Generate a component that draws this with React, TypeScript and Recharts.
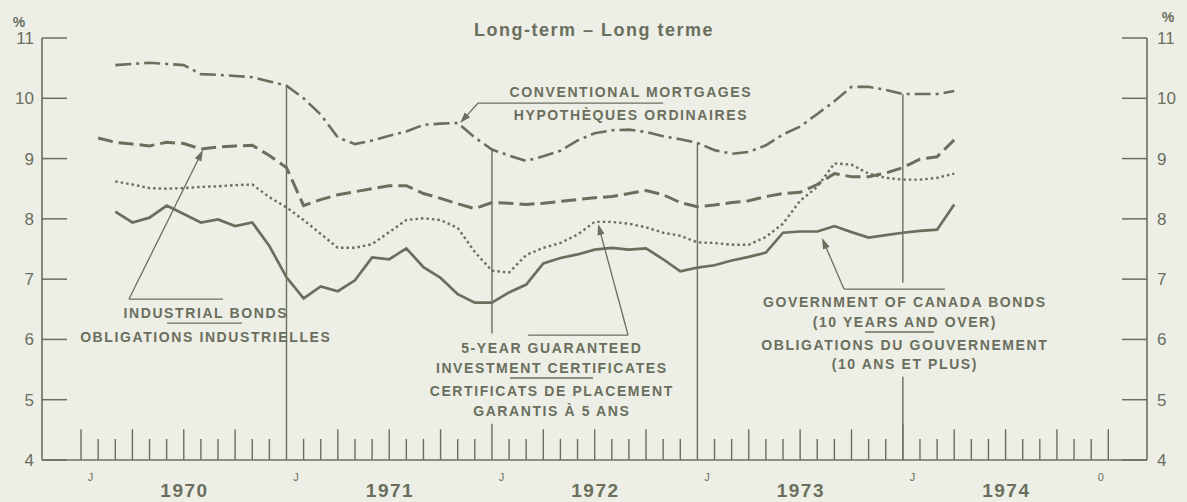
import React from 'react';
import { LineChart, Line, XAxis, YAxis, ReferenceLine, ReferenceDot } from 'recharts';

const INK = '#6a6f5d';
const BG = '#edeee6';
const FONT = '"Liberation Sans", Arial, Helvetica, sans-serif';

// month index: 0 = 1 January 1970, 12 = 1 January 1971, ...
const months = [1, 2, 3, 4, 5, 6, 7, 8, 9, 10, 11, 12, 13, 14, 15, 16, 17, 18, 19, 20, 21, 22, 23, 24, 25, 26, 27, 28, 29, 30, 31, 32, 33, 34, 35, 36, 37, 38, 39, 40, 41, 42, 43, 44, 45, 46, 47, 48, 49, 50, 51];

const conventionalMortgages = [null, 10.55, 10.57, 10.59, 10.57, 10.55, 10.40, 10.39, 10.37, 10.35, 10.28, 10.21, 10.00, 9.73, 9.35, 9.24, 9.30, 9.38, 9.45, 9.56, 9.58, 9.59, 9.35, 9.15, 9.05, 8.96, 9.04, 9.13, 9.30, 9.42, 9.47, 9.48, 9.44, 9.37, 9.32, 9.26, 9.14, 9.08, 9.11, 9.22, 9.40, 9.53, 9.74, 9.95, 10.19, 10.19, 10.14, 10.07, 10.07, 10.07, 10.12];

const industrialBonds = [9.34, 9.27, 9.24, 9.21, 9.27, 9.25, 9.16, 9.19, 9.21, 9.22, 9.05, 8.85, 8.22, 8.32, 8.40, 8.45, 8.50, 8.55, 8.55, 8.42, 8.34, 8.25, 8.17, 8.27, 8.26, 8.24, 8.26, 8.29, 8.32, 8.35, 8.37, 8.42, 8.47, 8.40, 8.27, 8.20, 8.23, 8.27, 8.30, 8.37, 8.42, 8.44, 8.57, 8.75, 8.70, 8.70, 8.76, 8.85, 8.99, 9.03, 9.31];

const guaranteedCertificates = [null, 8.62, 8.57, 8.51, 8.50, 8.51, 8.53, 8.54, 8.56, 8.57, 8.36, 8.19, 7.98, 7.75, 7.52, 7.52, 7.58, 7.78, 7.98, 8.01, 7.98, 7.85, 7.45, 7.14, 7.11, 7.40, 7.52, 7.60, 7.74, 7.95, 7.95, 7.92, 7.86, 7.77, 7.72, 7.61, 7.60, 7.57, 7.57, 7.70, 7.92, 8.30, 8.53, 8.92, 8.90, 8.75, 8.68, 8.65, 8.65, 8.68, 8.75];

const governmentBonds = [null, 8.12, 7.94, 8.02, 8.22, 8.08, 7.94, 7.99, 7.88, 7.94, 7.55, 7.03, 6.68, 6.88, 6.80, 6.98, 7.36, 7.33, 7.51, 7.20, 7.02, 6.75, 6.61, 6.61, 6.78, 6.91, 7.26, 7.35, 7.41, 7.49, 7.52, 7.49, 7.51, 7.33, 7.13, 7.19, 7.23, 7.31, 7.37, 7.44, 7.77, 7.79, 7.79, 7.88, 7.78, 7.69, 7.73, 7.77, 7.80, 7.82, 8.24];

const yTicks = [4, 5, 6, 7, 8, 9, 10, 11];
const monthLabelPos = [0.5, 12.5, 24.5, 36.5, 48.5, 59.5];
const monthLabels = ['J', 'J', 'J', 'J', 'J', '0'];
const yearPos = [6, 18, 30, 42, 54];
const yearLabels = ['1970', '1971', '1972', '1973', '1974'];
const monthTicks = [0, 1, 2, 3, 4, 5, 6, 7, 8, 9, 10, 11, 12, 13, 14, 15, 16, 17, 18, 19, 20, 21, 22, 23, 24, 25, 26, 27, 28, 29, 30, 31, 32, 33, 34, 35, 36, 37, 38, 39, 40, 41, 42, 43, 44, 45, 46, 47, 48, 49, 50, 51, 52, 53, 54, 55, 56, 57, 58, 59, 60];

const X_MIN = -2.28;
const X_MAX = 62.26;

const data = months.map((m, k) => ({
  m,
  mort: conventionalMortgages[k],
  ind: industrialBonds[k],
  gic: guaranteedCertificates[k],
  gov: governmentBonds[k],
}));

const valueAt = (m: number) => {
  const k = months.indexOf(m);
  return conventionalMortgages[k] as number;
};

// year dividers: [month, top value, bottom value]
const dividers: [number, number, number][] = [
  [12, valueAt(12), 4],
  [24, valueAt(24), 6.1],
  [36, valueAt(36), 4],
  [48, valueAt(48), 6.94],
  [48, 5.38, 4],
];

const LS = 1.6;

type Block = {
  x: number;
  y: number;
  lines: string[];
  offsets: number[];
  underline?: [number, number, number];
};

const blocks: Block[] = [
  { x: 32.07, y: 10.02, lines: ['CONVENTIONAL MORTGAGES', 'HYPOTHÈQUES ORDINAIRES'], offsets: [0, 23] },
  { x: 7.24, y: 6.355, lines: ['INDUSTRIAL BONDS', 'OBLIGATIONS INDUSTRIELLES'], offsets: [0, 24], underline: [5, -38, 37] },
  {
    x: 27.45, y: 5.775,
    lines: ['5-YEAR GUARANTEED', 'INVESTMENT CERTIFICATES', 'CERTIFICATS DE PLACEMENT', 'GARANTIS À 5 ANS'],
    offsets: [0, 20, 43, 63], underline: [25, -41, 42],
  },
  {
    x: 48.07, y: 6.538,
    lines: ['GOVERNMENT OF CANADA BONDS', '(10 YEARS AND OVER)', 'OBLIGATIONS DU GOUVERNEMENT', '(10 ANS ET PLUS)'],
    offsets: [0, 20, 43, 62], underline: [25, -39, 30],
  },
];

// leader lines: [x1, y1, x2, y2, arrow]
const leaders: [number, number, number, number, boolean][] = [
  [34.0, 9.921, 23.19, 9.921, false],
  [23.19, 9.921, 22.14, 9.59, true],
  [8.29, 6.67, 2.8, 6.67, false],
  [2.8, 6.67, 7.12, 9.142, true],
  [26.11, 6.073, 31.95, 6.073, false],
  [31.95, 6.073, 30.2, 7.914, true],
  [50.46, 6.836, 44.56, 6.836, false],
  [44.56, 6.836, 43.28, 7.682, true],
];

const makeBlockShape = (b: Block) => (props: any) => {
  const { cx, cy } = props;
  return (
    <g>
      {b.lines.map((t, k) => (
        <text
          key={k}
          x={cx}
          dx={LS / 2}
          y={cy + b.offsets[k]}
          textAnchor="middle"
          fontFamily={FONT}
          fontWeight={700}
          fontSize={14}
          letterSpacing={LS}
          fill={INK}
        >
          {t}
        </text>
      ))}
      {b.underline && (
        <line
          x1={cx + b.underline[1]}
          x2={cx + b.underline[2]}
          y1={cy + b.underline[0]}
          y2={cy + b.underline[0]}
          stroke={INK}
          strokeWidth={1.3}
        />
      )}
    </g>
  );
};

const makeLeader = (arrow: boolean) => (props: any) => {
  const { x1, y1, x2, y2 } = props;
  if (!arrow) return <line x1={x1} y1={y1} x2={x2} y2={y2} stroke={INK} strokeWidth={1.3} />;
  const dx = x2 - x1;
  const dy = y2 - y1;
  const len = Math.hypot(dx, dy) || 1;
  const ux = dx / len;
  const uy = dy / len;
  const L = 11;
  const W = 3.6;
  const bx = x2 - ux * L;
  const by = y2 - uy * L;
  const pts = `${x2},${y2} ${bx - uy * W},${by + ux * W} ${bx + uy * W},${by - ux * W}`;
  return (
    <g>
      <line x1={x1} y1={y1} x2={bx + ux * 2} y2={by + uy * 2} stroke={INK} strokeWidth={1.3} />
      <polygon points={pts} fill={INK} />
    </g>
  );
};

const XTick = (props: any) => {
  const { x, y, payload } = props;
  const v = payload.value;
  const mi = monthLabelPos.indexOf(v);
  if (mi >= 0) {
    return (
      <text x={x + 1} y={y + 21} textAnchor="middle" fontFamily={FONT} fontSize={11} fill={INK}>
        {monthLabels[mi]}
      </text>
    );
  }
  const yi = yearPos.indexOf(v);
  if (yi >= 0) {
    return (
      <text x={x} dx={0.75} y={y + 37} textAnchor="middle" fontFamily={FONT} fontWeight={700} fontSize={19} letterSpacing={1.5} fill={INK}>
        {yearLabels[yi]}
      </text>
    );
  }
  return null;
};

const xLabelTicks = [...monthLabelPos, ...yearPos].sort((a, b) => a - b);

export default function App() {
  return (
    <div style={{ position: 'absolute', left: 0, top: 0, width: 1187, height: 502, background: BG, overflow: 'hidden' }}>
      <LineChart
        width={1187}
        height={502}
        data={data}
        margin={{ top: 38, right: 0, bottom: 0, left: 0 }}
      >
        <XAxis
          dataKey="m"
          type="number"
          domain={[X_MIN, X_MAX]}
          allowDataOverflow
          ticks={xLabelTicks}
          interval={0}
          tickSize={0}
          tickMargin={0}
          height={42}
          axisLine={{ stroke: INK, strokeWidth: 1.6 }}
          tickLine={false}
          tick={<XTick />}
        />
        <YAxis
          domain={[4, 11]}
          ticks={yTicks}
          interval={0}
          width={42}
          tickSize={0}
          tickMargin={8}
          tickLine={false}
          axisLine={{ stroke: INK, strokeWidth: 1.6 }}
          tick={{ fill: INK, fontSize: 17, fontFamily: FONT }}
        />
        <YAxis
          yAxisId="r"
          orientation="right"
          domain={[4, 11]}
          ticks={yTicks}
          interval={0}
          width={40}
          tickSize={0}
          tickMargin={10}
          tickLine={false}
          axisLine={{ stroke: INK, strokeWidth: 1.6 }}
          tick={{ fill: INK, fontSize: 17, fontFamily: FONT }}
        />

        {yTicks.map((v) => (
          <ReferenceLine
            key={'yl' + v}
            segment={[{ x: X_MIN, y: v }, { x: X_MIN + 1.46, y: v }]}
            stroke={INK}
            strokeWidth={1.5}
          />
        ))}
        {yTicks.map((v) => (
          <ReferenceLine
            key={'yr' + v}
            segment={[{ x: X_MAX - 1.46, y: v }, { x: X_MAX, y: v }]}
            stroke={INK}
            strokeWidth={1.5}
          />
        ))}
        {monthTicks
          .filter((i) => i !== 12 && i !== 36)
          .map((i) => {
            const h = i === 24 || i === 48 ? 0.6 : i % 3 === 0 ? 0.51 : 0.35;
            return (
              <ReferenceLine
                key={'mt' + i}
                segment={[{ x: i, y: 4 }, { x: i, y: 4 + h }]}
                stroke={INK}
                strokeWidth={1.4}
              />
            );
          })}
        {dividers.map((d, k) => (
          <ReferenceLine
            key={'dv' + k}
            segment={[{ x: d[0], y: d[1] }, { x: d[0], y: d[2] }]}
            stroke={INK}
            strokeWidth={1.4}
          />
        ))}
        {leaders.map((l, k) => (
          <ReferenceLine
            key={'ld' + k}
            segment={[{ x: l[0], y: l[1] }, { x: l[2], y: l[3] }]}
            stroke={INK}
            shape={makeLeader(l[4])}
          />
        ))}
        {blocks.map((b, k) => (
          <ReferenceDot key={'bk' + k} x={b.x} y={b.y} r={0} shape={makeBlockShape(b)} />
        ))}

        <Line
          dataKey="mort"
          stroke={INK}
          strokeWidth={2.6}
          strokeDasharray="16 5 3 5"
          dot={false}
          activeDot={false}
          isAnimationActive={false}
          connectNulls={false}
        />
        <Line
          dataKey="ind"
          stroke={INK}
          strokeWidth={3}
          strokeDasharray="15 6"
          dot={false}
          activeDot={false}
          isAnimationActive={false}
        />
        <Line
          dataKey="gic"
          stroke={INK}
          strokeWidth={2.4}
          strokeDasharray="2.5 3"
          dot={false}
          activeDot={false}
          isAnimationActive={false}
        />
        <Line
          dataKey="gov"
          yAxisId="r"
          stroke={INK}
          strokeWidth={2.7}
          dot={false}
          activeDot={false}
          isAnimationActive={false}
        />
      </LineChart>
      <svg
        width={1187}
        height={502}
        style={{ position: 'absolute', left: 0, top: 0, pointerEvents: 'none' }}
      >
        <text x={594} y={36} textAnchor="middle" fontFamily={FONT} fontWeight={700} fontSize={18} letterSpacing={1.5} fill={INK}>
          Long-term – Long terme
        </text>
        <text x={19} y={27} textAnchor="middle" fontFamily={FONT} fontWeight={700} fontSize={14} fill={INK}>
          %
        </text>
        <text x={1168} y={22} textAnchor="middle" fontFamily={FONT} fontWeight={700} fontSize={14} fill={INK}>
          %
        </text>
      </svg>
    </div>
  );
}
